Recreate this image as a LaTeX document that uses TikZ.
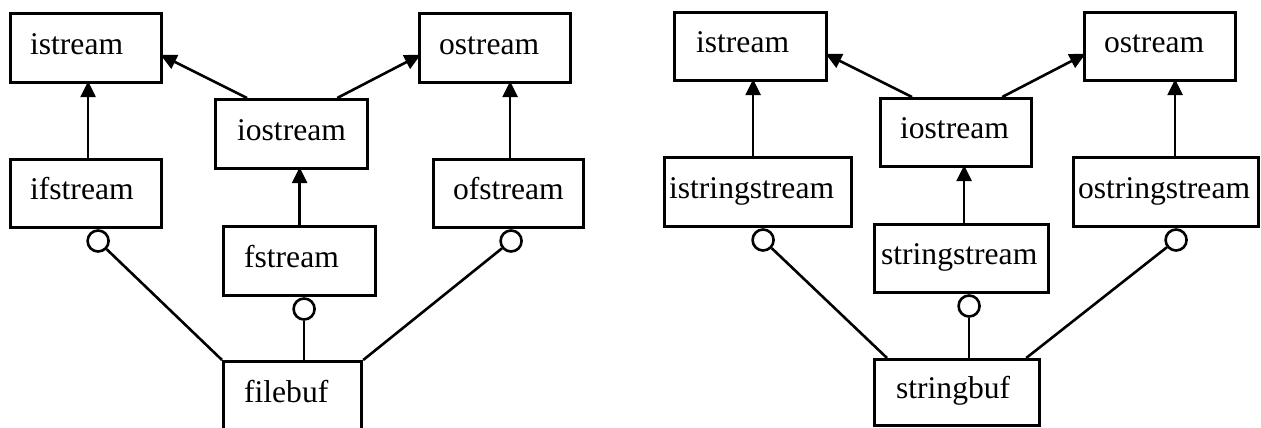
\documentclass[tikz,border=0pt]{standalone}
\usepackage{fontspec}
\setmainfont{Liberation Serif}
\usetikzlibrary{arrows.meta}

\tikzset{
  cls/.style={draw, line width=3.2pt, anchor=north west, inner ysep=0pt,
    text height=21pt, text depth=9pt, align=left,
    font=\fontsize{31.6pt}{36pt}\selectfont},
  hole/.style={draw, circle, line width=2.6pt, minimum size=21pt,
    inner sep=0pt, anchor=north, fill=white},
  inherit/.style={line width=2.6pt, -{Triangle[length=16pt,width=15pt]},
    shorten >=-3pt},
  uses/.style={line width=2.6pt},
}

\begin{document}
\begin{tikzpicture}[x=1pt, y=-1pt]
\useasboundingbox (0,0) rectangle (1261,428);

% ---------- file streams ----------
\node[cls, minimum height=69pt, inner xsep=19.5pt, text width=112pt] (istreamL)  at (9,12)   {\mbox{istream}};
\node[cls, minimum height=68pt, inner xsep=19.5pt, text width=112pt] (ifstreamL) at (9,158)  {\mbox{ifstream}};
\node[cls, minimum height=69pt, inner xsep=21.5pt, text width=109pt] (iostreamL) at (214,98) {\mbox{iostream}};
\node[cls, minimum height=69pt, inner xsep=20.5pt, text width=111pt] (fstreamL)  at (222,225) {\mbox{fstream}};
\node[cls, minimum height=69pt, inner xsep=20.5pt, text width=97pt]  (filebufL)  at (222,360) {\mbox{filebuf}};
\node[cls, minimum height=69pt, inner xsep=19.5pt, text width=112pt] (ostreamL)  at (418,12)  {\mbox{ostream}};
\node[cls, minimum height=68pt, inner xsep=19.5pt, text width=111pt] (ofstreamL) at (432,158) {\mbox{ofstream}};

\draw[inherit] ([xshift=2pt]ifstreamL.north) -- ([xshift=2pt]istreamL.south);
\draw[inherit] ([xshift=33pt]iostreamL.north west) -- ([yshift=-8pt]istreamL.east);
\draw[inherit] ([xshift=-32pt]iostreamL.north east) -- ([yshift=-8pt]ostreamL.west);
\draw[inherit] (fstreamL.north) -- (fstreamL.north |- iostreamL.south);
\draw[inherit] ([xshift=1.5pt]ofstreamL.north) -- ([xshift=1.5pt]ofstreamL.north |- ostreamL.south);

\node[hole] (holeIfL) at ([xshift=12pt]ifstreamL.south) {};
\node[hole] (holeFL)  at ([xshift=4.5pt]fstreamL.south) {};
\node[hole] (holeOfL) at ([xshift=2.5pt]ofstreamL.south) {};

\draw[uses] (holeIfL) -- (filebufL.north west);
\draw[uses] (holeFL) -- (holeFL |- filebufL.north);
\draw[uses] (holeOfL) -- (filebufL.north east);

% ---------- string streams ----------
\node[cls, minimum height=68pt, inner xsep=21.5pt, text width=109pt] (istreamR)       at (673,11)  {\mbox{istream}};
\node[cls, minimum height=68pt, inner xsep=19.5pt, text width=112pt] (ostreamR)       at (1083,11) {\mbox{ostream}};
\node[cls, minimum height=68pt, inner xsep=19.5pt, text width=112pt] (iostreamR)      at (879,97)  {\mbox{iostream}};
\node[cls, minimum height=69pt, inner xsep=4.5pt,  text width=178pt] (istringstreamR) at (663,156) {\mbox{istringstream}};
\node[cls, minimum height=69pt, inner xsep=4.5pt,  text width=176pt] (ostringstreamR) at (1072,156) {\mbox{ostringstream}};
\node[cls, minimum height=68pt, inner xsep=6.5pt,  text width=161pt] (stringstreamR)  at (873,223) {\mbox{stringstream}};
\node[cls, minimum height=66pt, inner xsep=21.5pt, text width=122pt] (stringbufR)     at (873,358) {\mbox{stringbuf}};

\draw[inherit] ([xshift=-5pt]istringstreamR.north) -- ([xshift=-5pt]istringstreamR.north |- istreamR.south);
\draw[inherit] ([xshift=33pt]iostreamR.north west) -- ([yshift=-8.5pt]istreamR.east);
\draw[inherit] ([xshift=-31pt]iostreamR.north east) -- ([yshift=-8.5pt]ostreamR.west);
\draw[inherit] ([xshift=2.5pt]stringstreamR.north) -- ([xshift=2.5pt]stringstreamR.north |- iostreamR.south);
\draw[inherit] ([xshift=9pt]ostringstreamR.north) -- ([xshift=9pt]ostringstreamR.north |- ostreamR.south);

\node[hole] (holeIsR) at ([xshift=5pt]istringstreamR.south) {};
\node[hole] (holeSsR) at ([xshift=7.5pt]stringstreamR.south) {};
\node[hole] (holeOsR) at ([xshift=10pt]ostringstreamR.south) {};

\draw[uses] (holeIsR) -- ([xshift=14pt]stringbufR.north west);
\draw[uses] (holeSsR) -- (holeSsR |- stringbufR.north);
\draw[uses] (holeOsR) -- ([xshift=-15pt]stringbufR.north east);
\end{tikzpicture}
\end{document}
